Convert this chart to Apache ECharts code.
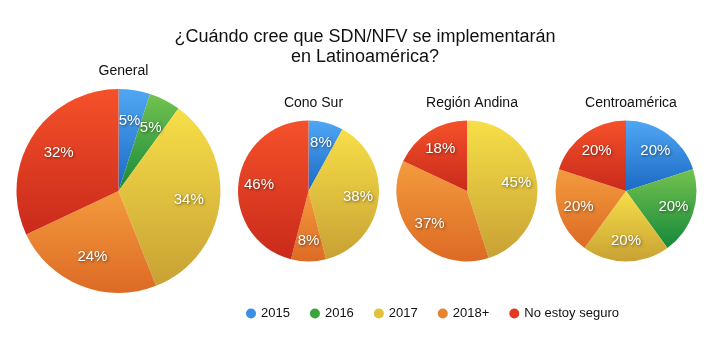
<!DOCTYPE html>
<html>
<head>
<meta charset="utf-8">
<style>
  html, body { margin: 0; padding: 0; background: #fff; }
  #chart { width: 720px; height: 340px; }
</style>
<script src="https://cdn.jsdelivr.net/npm/echarts@6/dist/echarts.min.js"></script>
</head>
<body>
<div id="chart"></div>
<script>
// Survey answers (percent of respondents) by region
const categories = ['2015', '2016', '2017', '2018+', 'No estoy seguro'];
const regions = ['General', 'Cono Sur', 'Región Andina', 'Centroamérica'];
const general = [5, 5, 34, 24, 32];
const conoSur = [8, 0, 38, 8, 46];
const regionAndina = [0, 0, 45, 37, 18];
const centroamerica = [20, 20, 20, 20, 20];
const regionValues = [general, conoSur, regionAndina, centroamerica];

// Slice shading: light top -> darker bottom
const sliceTop = ['#50a7f3', '#74c24f', '#f7df48', '#f39b3d', '#f5512a'];
const sliceBottom = ['#1b69c4', '#15893a', '#c8a134', '#dd6a25', '#c92a1b'];
const legendColors = ['#3b8fe6', '#3aa53a', '#e3c23a', '#e8832e', '#e03a20'];

// Pie geometry
const centers = [[118.5, 191], [308.5, 191], [467, 191], [626, 191]];
const radii = [102, 70.5, 70.5, 70.5];
const titleTops = [59, 91, 91, 91];

const font = '"Liberation Sans", Arial, Helvetica, sans-serif';

function grad(i) {
  return new echarts.graphic.LinearGradient(0, 0, 0, 1, [
    { offset: 0, color: sliceTop[i] },
    { offset: 1, color: sliceBottom[i] }
  ]);
}

function sliceData(values, withStyle) {
  const out = [];
  values.forEach((v, i) => {
    if (v > 0) {
      out.push({
        name: categories[i],
        value: v,
        itemStyle: withStyle ? { color: grad(i) } : { color: 'rgba(0,0,0,0)' }
      });
    }
  });
  return out;
}

const series = [];
regionValues.forEach((vals, k) => {
  // filled slices
  series.push({
    type: 'pie',
    center: centers[k],
    radius: [0, radii[k]],
    startAngle: 90,
    clockwise: true,
    silent: true,
    label: { show: false },
    labelLine: { show: false },
    itemStyle: { borderWidth: 0 },
    data: sliceData(vals, true)
  });
  // value labels, placed about two thirds of the way out
  series.push({
    type: 'pie',
    center: centers[k],
    radius: [radii[k] * 0.33, radii[k]],
    startAngle: 90,
    clockwise: true,
    silent: true,
    z: 5,
    avoidLabelOverlap: false,
    labelLayout: { hideOverlap: false },
    labelLine: { show: false },
    label: {
      show: true,
      position: 'inside',
      formatter: '{c}%',
      color: '#fff',
      fontSize: 15,
      fontFamily: font,
      textShadowColor: 'rgba(0,0,0,0.55)',
      textShadowBlur: 3,
      textShadowOffsetX: 1,
      textShadowOffsetY: 1
    },
    data: sliceData(vals, false)
  });
});

const titles = [{
  text: '¿Cuándo cree que SDN/NFV se implementarán\nen Latinoamérica?',
  left: 360,
  textAlign: 'center',
  top: 22,
  textStyle: { fontFamily: font, fontSize: 18, fontWeight: 'normal', color: '#111', lineHeight: 20 }
}];
regions.forEach((r, k) => {
  titles.push({
    text: r,
    left: centers[k][0],
    textAlign: 'center',
    top: titleTops[k],
    textStyle: { fontFamily: font, fontSize: 14, fontWeight: 'normal', color: '#111' }
  });
});

const chart = echarts.init(document.getElementById('chart'), null, { renderer: 'canvas' });
chart.setOption({
  animation: false,
  backgroundColor: '#fff',
  title: titles,
  legend: {
    left: 241,
    top: 302,
    icon: 'circle',
    itemWidth: 10,
    itemHeight: 10,
    itemGap: 20,
    textStyle: { fontFamily: font, fontSize: 13, color: '#111' },
    data: categories.map((c, i) => ({ name: c, itemStyle: { color: legendColors[i] } }))
  },
  series: series
});
</script>
</body>
</html>
